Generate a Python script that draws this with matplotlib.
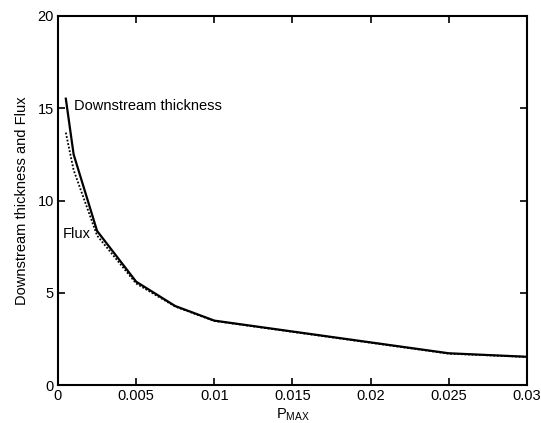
import matplotlib
matplotlib.use("Agg")
import matplotlib.pyplot as plt

plt.rcParams['font.family'] = ['Liberation Sans', 'DejaVu Sans']
plt.rcParams['mathtext.fontset'] = 'custom'
plt.rcParams['mathtext.rm'] = 'Liberation Sans'

# P_MAX values and the two curves
p_max = [0.0005, 0.001, 0.0025, 0.005, 0.0075, 0.01, 0.025, 0.03]
thickness = [15.52, 12.5, 8.35, 5.6, 4.28, 3.49, 1.72, 1.53]
flux = [13.68, 11.65, 8.1, 5.5, 4.25, 3.47, 1.7, 1.52]

x_ticks = [0, 0.005, 0.01, 0.015, 0.02, 0.025, 0.03]
x_labels = ["0", "0.005", "0.01", "0.015", "0.02", "0.025", "0.03"]
y_ticks = [0, 5, 10, 15, 20]

fs = 10.5

fig = plt.figure(figsize=(5.41, 4.23), dpi=100)
ax = fig.add_axes([0.1072, 0.0898, 0.8669, 0.8724])

ax.plot(p_max, thickness, color="black", lw=1.6)
ax.plot(p_max, flux, color="black", lw=1.3, ls=(0, (1, 1)))

ax.text(0.00103, 15.1, "Downstream thickness", fontsize=fs, va="center", ha="left")
ax.text(0.0003, 8.2, "Flux", fontsize=fs, va="center", ha="left")

ax.set_xlim(0, 0.03)
ax.set_ylim(0, 20)
ax.set_xticks(x_ticks)
ax.set_xticklabels(x_labels)
ax.set_yticks(y_ticks)
ax.tick_params(direction="in", top=True, right=True, length=5, width=1.2,
               labelsize=fs, pad=3)
for s in ax.spines.values():
    s.set_linewidth(1.5)

ax.set_xlabel(r"P$_{\mathrm{MAX}}$", fontsize=fs, labelpad=2)
ax.set_ylabel("Downstream thickness and Flux", fontsize=fs, labelpad=6)

fig.savefig("out.png", dpi=100)
